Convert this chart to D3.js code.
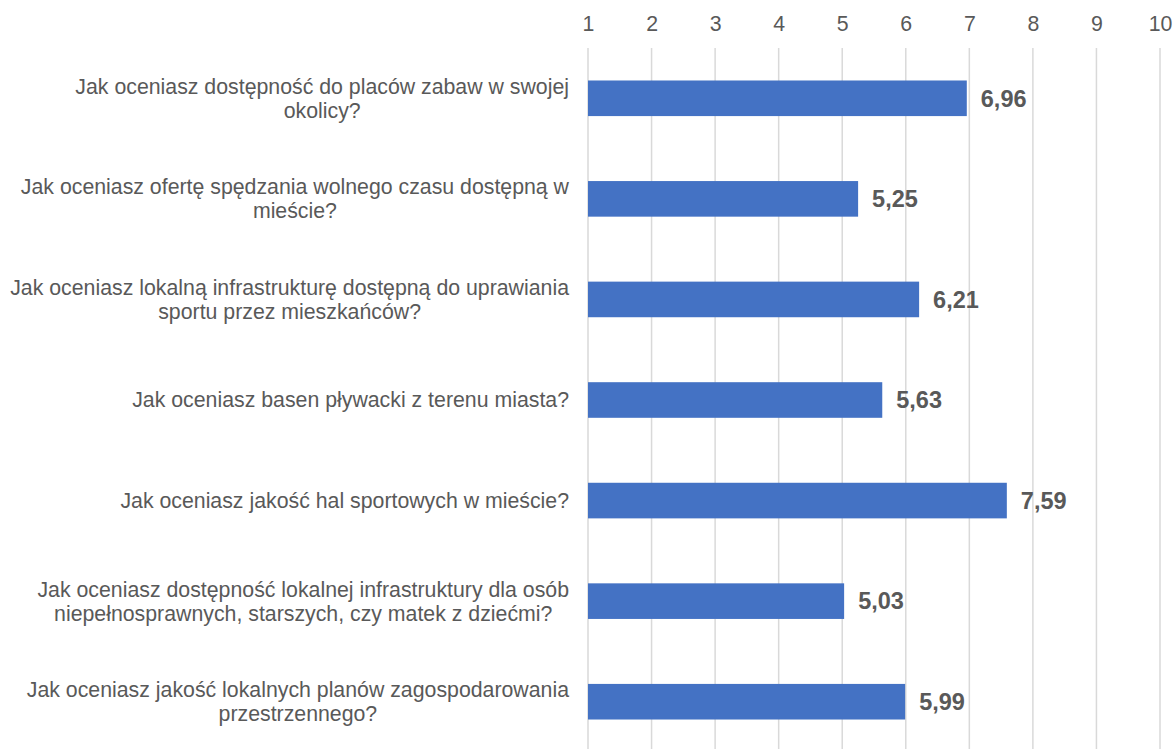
<!DOCTYPE html>
<html>
<head>
<meta charset="utf-8">
<script src="https://cdn.jsdelivr.net/npm/d3@7"></script>
<style>
  html, body { margin: 0; padding: 0; background: #fff; }
  svg { display: block; }
</style>
</head>
<body>
<svg id="chart" width="1174" height="749"></svg>
<script>
const categories = [
  "Jak oceniasz dostępność do placów zabaw w swojej\nokolicy?",
  "Jak oceniasz ofertę spędzania wolnego czasu dostępną w\nmieście?",
  "Jak oceniasz lokalną infrastrukturę dostępną do uprawiania\nsportu przez mieszkańców?",
  "Jak oceniasz basen pływacki z terenu miasta?",
  "Jak oceniasz jakość hal sportowych w mieście?",
  "Jak oceniasz dostępność lokalnej infrastruktury dla osób\nniepełnosprawnych, starszych, czy matek z dziećmi?",
  "Jak oceniasz jakość lokalnych planów zagospodarowania\nprzestrzennego?"
];
const values = [6.96, 5.25, 6.21, 5.63, 7.59, 5.03, 5.99];
const tickValues = [1, 2, 3, 4, 5, 6, 7, 8, 9, 10];

const svg = d3.select("#chart");
const font = "'Liberation Sans', Arial, sans-serif";
const textColor = "#595959";

const x = d3.scaleLinear().domain([1, 10]).range([588, 1160]);
const y = d3.scaleBand().domain(d3.range(categories.length)).range([48, 752]).paddingInner(0.646).paddingOuter(0.323);

// gridlines
svg.append("g").selectAll("line").data(tickValues).join("line")
  .attr("x1", d => x(d)).attr("x2", d => x(d))
  .attr("y1", 48).attr("y2", 752)
  .attr("stroke", "#d9d9d9").attr("stroke-width", 1.5);

// top axis labels
const axis = d3.axisTop(x).tickValues(tickValues).tickFormat(d3.format("d")).tickSize(0).tickPadding(0);
const gAxis = svg.append("g").attr("transform", "translate(0,31)").call(axis);
gAxis.select(".domain").remove();
gAxis.selectAll("text")
  .attr("font-family", font).attr("font-size", "21.3px").attr("fill", textColor)
  .attr("dy", 0);

// bars
svg.append("g").selectAll("rect").data(values).join("rect")
  .attr("x", x(1))
  .attr("y", (d, i) => y(i))
  .attr("width", d => x(d) - x(1))
  .attr("height", y.bandwidth())
  .attr("fill", "#4472C4");

// value labels
const fmt = d => d3.format(".2f")(d).replace(".", ",");
svg.append("g").selectAll("text").data(values).join("text")
  .attr("x", d => x(d) + 14)
  .attr("y", (d, i) => y(i) + y.bandwidth() / 2)
  .attr("dy", "0.35em")
  .attr("font-family", font).attr("font-size", "23.5px").attr("font-weight", "bold")
  .attr("fill", textColor)
  .text(fmt);

// category labels
const labelRight = 569;
const lineH = 24;
const gCat = svg.append("g");
categories.forEach((c, i) => {
  const lines = c.split("\n");
  const cy = y(i) + y.bandwidth() / 2;
  const t = gCat.append("text")
    .attr("font-family", font).attr("font-size", "21.3px").attr("fill", textColor)
    .attr("text-anchor", "middle");
  const tspans = lines.map((l, k) => t.append("tspan")
    .attr("y", cy + (k - (lines.length - 1) / 2) * lineH)
    .attr("dy", "0.35em")
    .text(l));
  let maxW = 0;
  tspans.forEach(ts => { maxW = Math.max(maxW, ts.node().getComputedTextLength()); });
  tspans.forEach(ts => ts.attr("x", labelRight - maxW / 2));
});
</script>
</body>
</html>
